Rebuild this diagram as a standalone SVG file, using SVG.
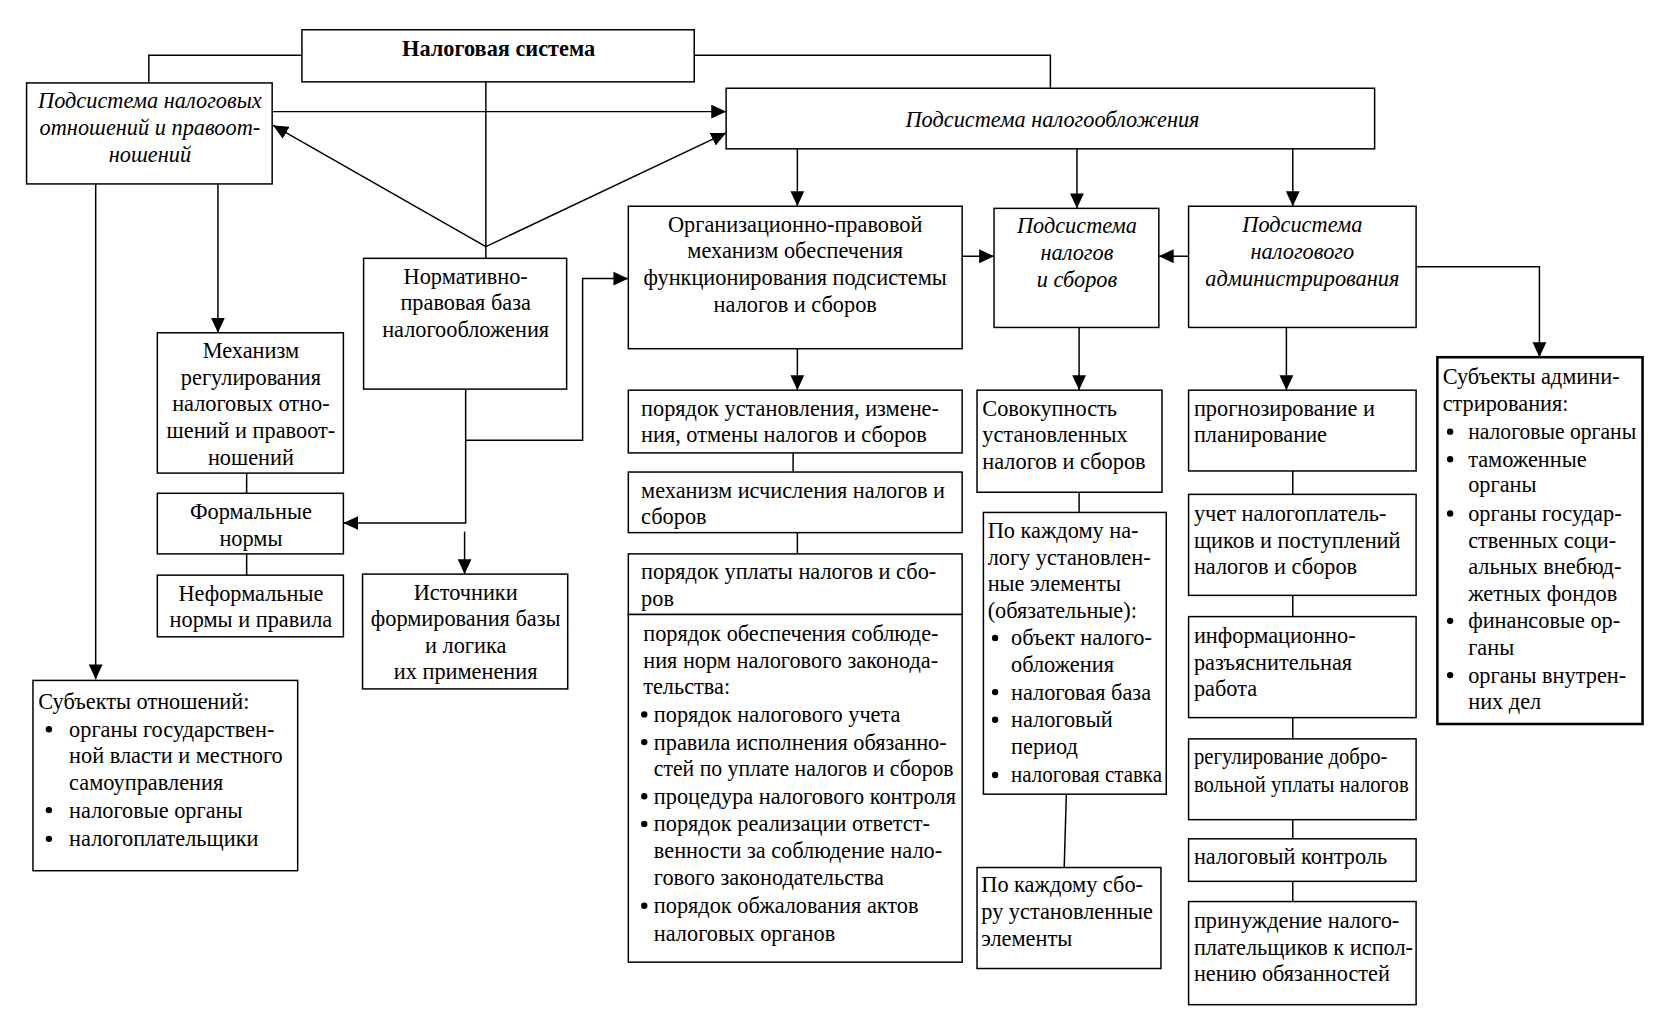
<svg xmlns="http://www.w3.org/2000/svg" width="1667" height="1026" viewBox="0 0 1667 1026">
<style>
.t{font-family:"Liberation Serif","Times New Roman",serif;font-size:21px;fill:#000}
.c{text-anchor:middle}
.i{font-style:italic}
.b{font-weight:bold}
.box{fill:#fff;stroke:#000;stroke-width:1.4}
.thick{stroke-width:2.4}
.ln{fill:none;stroke:#000;stroke-width:1.4}
.ar{marker-end:url(#ah)}
.dot{fill:#000}
</style>
<defs>
<marker id="ah" markerWidth="14" markerHeight="14" refX="14" refY="7" orient="auto" markerUnits="userSpaceOnUse">
<path d="M0,0.5 L14,7 L0,13.5 z" fill="#000"/>
</marker>
</defs>
<rect width="1667" height="1026" fill="#fff"/>
<g transform="scale(1.06314)">
<g id="connectors">
<polyline class="ln" points="284,52 140,52 140,78"/>
<polyline class="ln" points="653,52 988,52 988,83"/>
<line class="ln" x1="457" y1="77" x2="457" y2="243"/>
<line class="ln ar" x1="457" y1="232" x2="257" y2="118"/>
<line class="ln ar" x1="457" y1="232" x2="683" y2="125"/>
<line class="ln ar" x1="256" y1="105" x2="683" y2="105"/>
<line class="ln ar" x1="90" y1="173" x2="90" y2="639"/>
<line class="ln ar" x1="205" y1="173" x2="205" y2="313"/>
<line class="ln ar" x1="750" y1="140" x2="750" y2="194"/>
<line class="ln ar" x1="1013" y1="140" x2="1013" y2="196"/>
<line class="ln ar" x1="1216" y1="140" x2="1216" y2="194"/>
<line class="ln ar" x1="905" y1="241" x2="935" y2="241"/>
<line class="ln ar" x1="1118" y1="241" x2="1090" y2="241"/>
<polyline class="ln ar" points="1332,251 1448,251 1448,336"/>
<line class="ln ar" x1="750" y1="328" x2="750" y2="367"/>
<line class="ln ar" x1="1015" y1="308" x2="1015" y2="367"/>
<line class="ln ar" x1="1210" y1="308" x2="1210" y2="367"/>
<polyline class="ln ar" points="438,366 438,492 323,492"/>
<polyline class="ln ar" points="438,414 548,414 548,262 591,262"/>
<line class="ln ar" x1="437" y1="500" x2="437" y2="540"/>
<line class="ln" x1="232" y1="445" x2="232" y2="464"/>
<line class="ln" x1="232" y1="521" x2="232" y2="541"/>
<line class="ln" x1="746" y1="426" x2="746" y2="444"/>
<line class="ln" x1="750" y1="501" x2="750" y2="521"/>
<line class="ln" x1="750" y1="561" x2="750" y2="578"/>
<line class="ln" x1="1015" y1="463" x2="1015" y2="482"/>
<line class="ln" x1="1003" y1="747" x2="1001" y2="816"/>
<line class="ln" x1="1216" y1="443" x2="1216" y2="465"/>
<line class="ln" x1="1216" y1="560" x2="1216" y2="580"/>
<line class="ln" x1="1216" y1="675" x2="1216" y2="695"/>
<line class="ln" x1="1216" y1="771" x2="1216" y2="789"/>
<line class="ln" x1="1216" y1="829" x2="1216" y2="848"/>
</g>

<g id="n-tax-system">
<rect class="box" x="284" y="28" width="369" height="49"/>
<text class="t c b" x="469" y="53">Налоговая система</text>
</g>

<g id="n-relations">
<rect class="box" x="25" y="78" width="231" height="95"/>
<text class="t c i" x="141" y="102">Подсистема налоговых</text>
<text class="t c i" x="141" y="127">отношений и правоот-</text>
<text class="t c i" x="141" y="152">ношений</text>
</g>

<g id="n-taxation">
<rect class="box" x="683" y="83" width="610" height="57"/>
<text class="t c i" x="990" y="119">Подсистема налогообложения</text>
</g>

<g id="n-org">
<rect class="box" x="591" y="194" width="314" height="134"/>
<text class="t c" x="748" y="218">Организационно-правовой</text>
<text class="t c" x="748" y="243">механизм обеспечения</text>
<text class="t c" x="748" y="268">функционирования подсистемы</text>
<text class="t c" x="748" y="293">налогов и сборов</text>
</g>

<g id="n-taxes">
<rect class="box" x="935" y="196" width="155" height="112"/>
<text class="t c i" x="1013" y="219">Подсистема</text>
<text class="t c i" x="1013" y="245">налогов</text>
<text class="t c i" x="1013" y="270">и сборов</text>
</g>

<g id="n-admin">
<rect class="box" x="1118" y="194" width="214" height="114"/>
<text class="t c i" x="1225" y="218">Подсистема</text>
<text class="t c i" x="1225" y="244">налогового</text>
<text class="t c i" x="1225" y="269">администрирования</text>
</g>

<g id="n-normbase">
<rect class="box" x="342" y="243" width="191" height="123"/>
<text class="t c" x="438" y="267">Нормативно-</text>
<text class="t c" x="438" y="292">правовая база</text>
<text class="t c" x="438" y="317">налогообложения</text>
</g>

<g id="n-mechanism">
<rect class="box" x="148" y="313" width="175" height="132"/>
<text class="t c" x="236" y="337">Механизм</text>
<text class="t c" x="236" y="362">регулирования</text>
<text class="t c" x="236" y="387">налоговых отно-</text>
<text class="t c" x="236" y="412">шений и правоот-</text>
<text class="t c" x="236" y="437">ношений</text>
</g>

<g id="n-formal">
<rect class="box" x="148" y="464" width="175" height="57"/>
<text class="t c" x="236" y="488">Формальные</text>
<text class="t c" x="236" y="514">нормы</text>
</g>

<g id="n-informal">
<rect class="box" x="148" y="541" width="175" height="58"/>
<text class="t c" x="236" y="565">Неформальные</text>
<text class="t c" x="236" y="590">нормы и правила</text>
</g>

<g id="n-sources">
<rect class="box" x="341" y="540" width="193" height="108"/>
<text class="t c" x="438" y="564">Источники</text>
<text class="t c" x="438" y="589">формирования базы</text>
<text class="t c" x="438" y="614">и логика</text>
<text class="t c" x="438" y="639">их применения</text>
</g>

<g id="n-subjects-rel">
<rect class="box" x="31" y="640" width="249" height="179"/>
<text class="t" x="36" y="667">Субъекты отношений:</text>
<circle class="dot" cx="46" cy="686" r="3"/>
<text class="t" x="65" y="693">органы государствен-</text>
<text class="t" x="65" y="718">ной власти и местного</text>
<text class="t" x="65" y="743">самоуправления</text>
<circle class="dot" cx="46" cy="762" r="3"/>
<text class="t" x="65" y="769">налоговые органы</text>
<circle class="dot" cx="46" cy="789" r="3"/>
<text class="t" x="65" y="796">налогоплательщики</text>
</g>

<g id="n-order-set">
<rect class="box" x="591" y="367" width="314" height="59"/>
<text class="t" x="603" y="391">порядок установления, измене-</text>
<text class="t" x="603" y="416">ния, отмены налогов и сборов</text>
</g>

<g id="n-calc">
<rect class="box" x="591" y="444" width="314" height="57"/>
<text class="t" x="603" y="468">механизм исчисления налогов и</text>
<text class="t" x="603" y="493">сборов</text>
</g>

<g id="n-payment">
<rect class="box" x="591" y="521" width="314" height="57"/>
<text class="t" x="603" y="545">порядок уплаты налогов и сбо-</text>
<text class="t" x="603" y="570">ров</text>
</g>

<g id="n-compliance">
<rect class="box" x="591" y="578" width="314" height="327"/>
<text class="t" x="605" y="603">порядок обеспечения соблюде-</text>
<text class="t" x="605" y="628">ния норм налогового законода-</text>
<text class="t" x="605" y="653">тельства:</text>
<circle class="dot" cx="606" cy="672" r="3"/>
<text class="t" x="615" y="679">порядок налогового учета</text>
<circle class="dot" cx="606" cy="698" r="3"/>
<text class="t" x="615" y="705">правила исполнения обязанно-</text>
<text class="t" x="615" y="730" textLength="282" lengthAdjust="spacingAndGlyphs">стей по уплате налогов и сборов</text>
<circle class="dot" cx="606" cy="749" r="3"/>
<text class="t" x="615" y="756">процедура налогового контроля</text>
<circle class="dot" cx="606" cy="775" r="3"/>
<text class="t" x="615" y="782">порядок реализации ответст-</text>
<text class="t" x="615" y="807">венности за соблюдение нало-</text>
<text class="t" x="615" y="832">гового законодательства</text>
<circle class="dot" cx="606" cy="852" r="3"/>
<text class="t" x="615" y="859">порядок обжалования актов</text>
<text class="t" x="615" y="885">налоговых органов</text>
</g>

<g id="n-totality">
<rect class="box" x="919" y="367" width="174" height="96"/>
<text class="t" x="924" y="391">Совокупность</text>
<text class="t" x="924" y="416">установленных</text>
<text class="t" x="924" y="441">налогов и сборов</text>
</g>

<g id="n-per-tax">
<rect class="box" x="925" y="482" width="172" height="265"/>
<text class="t" x="929" y="506">По каждому на-</text>
<text class="t" x="929" y="531">логу установлен-</text>
<text class="t" x="929" y="556">ные элементы</text>
<text class="t" x="929" y="581">(обязательные):</text>
<circle class="dot" cx="936" cy="600" r="3"/>
<text class="t" x="951" y="607">объект налого-</text>
<text class="t" x="951" y="632">обложения</text>
<circle class="dot" cx="936" cy="651" r="3"/>
<text class="t" x="951" y="658">налоговая база</text>
<circle class="dot" cx="936" cy="677" r="3"/>
<text class="t" x="951" y="684">налоговый</text>
<text class="t" x="951" y="709">период</text>
<circle class="dot" cx="936" cy="729" r="3"/>
<text class="t" x="951" y="736" textLength="142" lengthAdjust="spacingAndGlyphs">налоговая ставка</text>
</g>

<g id="n-per-fee">
<rect class="box" x="919" y="816" width="173" height="95"/>
<text class="t" x="923" y="839">По каждому сбо-</text>
<text class="t" x="923" y="864">ру установленные</text>
<text class="t" x="923" y="890">элементы</text>
</g>

<g id="n-forecast">
<rect class="box" x="1118" y="367" width="214" height="76"/>
<text class="t" x="1123" y="391">прогнозирование и</text>
<text class="t" x="1123" y="416">планирование</text>
</g>

<g id="n-accounting">
<rect class="box" x="1118" y="465" width="214" height="95"/>
<text class="t" x="1123" y="490">учет налогоплатель-</text>
<text class="t" x="1123" y="515">щиков и поступлений</text>
<text class="t" x="1123" y="540">налогов и сборов</text>
</g>

<g id="n-info">
<rect class="box" x="1118" y="580" width="214" height="95"/>
<text class="t" x="1123" y="605">информационно-</text>
<text class="t" x="1123" y="630">разъяснительная</text>
<text class="t" x="1123" y="655">работа</text>
</g>

<g id="n-voluntary">
<rect class="box" x="1118" y="695" width="214" height="76"/>
<text class="t" x="1123" y="719" textLength="182" lengthAdjust="spacingAndGlyphs">регулирование добро-</text>
<text class="t" x="1123" y="745" textLength="202" lengthAdjust="spacingAndGlyphs">вольной уплаты налогов</text>
</g>

<g id="n-control">
<rect class="box" x="1118" y="789" width="214" height="40"/>
<text class="t" x="1123" y="813">налоговый контроль</text>
</g>

<g id="n-coercion">
<rect class="box" x="1118" y="848" width="214" height="97"/>
<text class="t" x="1123" y="873">принуждение налого-</text>
<text class="t" x="1123" y="898">плательщиков к испол-</text>
<text class="t" x="1123" y="923">нению обязанностей</text>
</g>

<g id="n-subjects-admin">
<rect class="box thick" x="1352" y="336" width="193" height="345"/>
<text class="t" x="1357" y="361">Субъекты админи-</text>
<text class="t" x="1357" y="387">стрирования:</text>
<circle class="dot" cx="1364" cy="406" r="3"/>
<text class="t" x="1381" y="413" textLength="158" lengthAdjust="spacingAndGlyphs">налоговые органы</text>
<circle class="dot" cx="1364" cy="432" r="3"/>
<text class="t" x="1381" y="439">таможенные</text>
<text class="t" x="1381" y="463">органы</text>
<circle class="dot" cx="1364" cy="483" r="3"/>
<text class="t" x="1381" y="490">органы государ-</text>
<text class="t" x="1381" y="515">ственных соци-</text>
<text class="t" x="1381" y="540">альных внебюд-</text>
<text class="t" x="1381" y="565">жетных фондов</text>
<circle class="dot" cx="1364" cy="584" r="3"/>
<text class="t" x="1381" y="591">финансовые ор-</text>
<text class="t" x="1381" y="616">ганы</text>
<circle class="dot" cx="1364" cy="635" r="3"/>
<text class="t" x="1381" y="642">органы внутрен-</text>
<text class="t" x="1381" y="667">них дел</text>
</g>
</g>
</svg>
